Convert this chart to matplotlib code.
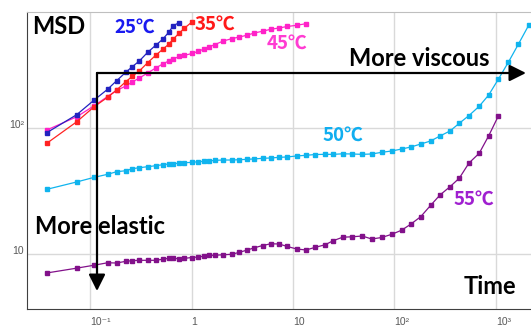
import numpy as np
from matplotlib import pyplot as plt

# time grid (s) shared by all curves
t = [0.0375, 0.0739, 0.110, 0.149, 0.183, 0.225, 0.261, 0.306, 0.370, 0.444,
     0.520, 0.596, 0.662, 0.753, 0.849, 1.018, 1.167, 1.328, 1.487, 1.704,
     2.057, 2.489, 2.958, 3.499, 4.156, 5.029, 6.030, 7.280, 8.788, 10.88,
     13.43, 16.59, 20.67, 24.95, 30.88, 37.87, 48.17, 59.64, 74.79, 93.85,
     117.7, 145.4, 181.2, 227.3, 280.8, 352.3, 434.9, 542.0, 683.3, 847.6,
     1058, 1328, 1666, 2114]

msd_25 = [91.8, 127.5, 166.8, 202.9, 237.4, 276.8, 306.5, 340.2, 398.9, 453.3,
          505.8, 574.9, 648.5, 685.1]
msd_35 = [75.6, 112.0, 147.6, 175.3, 200.3, 233.1, 257.0, 283.5, 329.9, 377.6,
          421.3, 461.7, 508.6, 564.3, 618.4, 697.9]
msd_45 = [96.4, 122.7, 150.3, 177.8, 198.5, 215.4, 231.8, 249.4, 273.3, 299.4,
          322.0, 340.2, 352.8, 369.4, 377.6, 390.3, 406.3, 423.6, 439.4, 459.9,
          490.4, 511.4, 527.6, 544.2, 567.6, 586.6, 607.3, 622.0, 639.3, 653.4,
          672.8]
msd_50 = [32.6, 37.3, 40.6, 42.9, 45.0, 45.8, 47.5, 48.4, 49.3, 50.2,
          51.1, 51.8, 52.1, 52.5, 53.0, 53.4, 54.0, 54.4, 54.7, 55.4,
          55.7, 55.7, 56.0, 56.4, 56.8, 57.5, 57.8, 58.5, 58.9, 60.0,
          60.7, 61.6, 61.8, 61.8, 62.4, 62.2, 61.8, 62.2, 64.1, 65.7,
          68.1, 70.7, 74.6, 78.9, 86.4, 94.7, 109.0, 125.6, 148.7, 182.8,
          244.8, 334.1, 464.2, 660.3]
msd_55 = [7.07, 7.72, 8.15, 8.52, 8.48, 8.75, 8.85, 8.91, 8.91, 8.91,
          9.09, 9.24, 9.24, 9.18, 9.24, 9.38, 9.47, 9.61, 9.73, 9.78,
          9.86, 9.95, 10.31, 10.72, 11.20, 11.68, 12.05, 12.01, 11.47, 10.96,
          10.76, 11.30, 11.83, 12.76, 13.59, 13.69, 13.89, 13.15, 13.52, 14.33,
          15.45, 17.30, 19.77, 24.35, 29.40, 34.20, 39.96, 52.75, 63.0, 86.7,
          125.2]

series = [(msd_50, '#10B4EE'), (msd_55, '#82118A'), (msd_45, '#FF22C8'),
          (msd_35, '#FF2222'), (msd_25, '#2222C0')]

xticks = [0.1, 1, 10, 100, 1000]
xticklabels = ['10\u207b\u00b9', '1', '10', '10\u00b2', '10\u00b3']
yticks = [10, 100]
yticklabels = ['10', '10\u00b2']

fig = plt.figure(figsize=(5.31, 3.26), dpi=100)
ax = fig.add_axes([27/531, 17/326, 504/531, 297/326])
ax.set_xscale('log')
ax.set_yscale('log')

for y, c in series:
    ax.plot(t[:len(y)], y, '-s', color=c, lw=0.9, ms=2.5, mec=c, mfc=c)

ax.set_xlim(0.02394, 2213)
ax.set_ylim(3.66, 833)
ax.set_xticks(xticks)
ax.set_xticklabels(xticklabels, ha='left', family=['Liberation Sans', 'DejaVu Sans'],
                   fontsize=7.5, color='#595959')
ax.set_yticks(yticks)
ax.set_yticklabels(yticklabels, va='baseline', family=['Liberation Sans', 'DejaVu Sans'],
                   fontsize=7.5, color='#595959')
ax.minorticks_off()
ax.tick_params(length=0)
ax.tick_params(axis='x', pad=6)
ax.tick_params(axis='y', pad=2)
ax.grid(True, color='#D9D9D9', lw=1)
ax.set_axisbelow(True)
ax.spines['right'].set_visible(False)
ax.spines['left'].set_color('#404040')
ax.spines['bottom'].set_color('#404040')
ax.spines['top'].set_color('#BFBFBF')

# arrows
ap = dict(arrowstyle='-|>,head_length=1.0,head_width=0.5', lw=1.6, color='k',
          shrinkA=0, shrinkB=0, mutation_scale=10)
ax.annotate('', xy=(0.990, 0.7946), xytext=(0.1389, 0.7946),
            xycoords='axes fraction', arrowprops=ap)
ax.annotate('', xy=(0.1389, 0.0606), xytext=(0.1389, 0.7946),
            xycoords='axes fraction', arrowprops=ap)

def label(px, py, s, c, size, fam):
    fig.text(px/531, 1 - py/326, s, color=c, fontsize=size, fontweight='bold',
             family=fam, ha='left', va='center')

lat = ['Lato', 'DejaVu Sans']
cjk = ['Noto Sans CJK JP', 'DejaVu Sans']
label(32, 27, 'MSD', 'k', 17, lat)
label(114, 27, '25℃', '#1A1AF0', 13.5, cjk)
label(195, 24, '35℃', '#FF1A1A', 13.5, cjk)
label(267, 43, '45℃', '#FF3CD2', 13.5, cjk)
label(323, 135, '50℃', '#10AEF0', 13.5, cjk)
label(454, 199, '55℃', '#A020D0', 13.5, cjk)
label(349, 58, 'More viscous', 'k', 17, lat)
label(35, 226, 'More elastic', 'k', 17, lat)
label(464, 286, 'Time', 'k', 17, lat)

plt.savefig('out.png', dpi=100)
